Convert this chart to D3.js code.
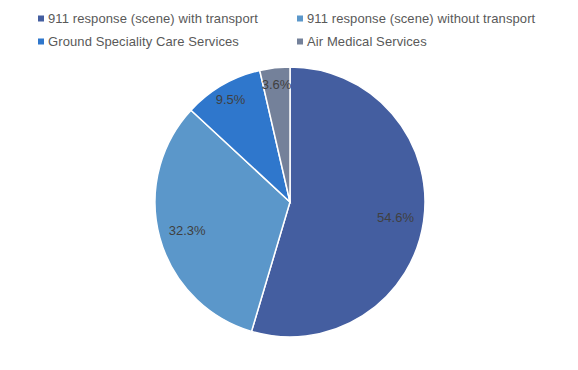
<!DOCTYPE html>
<html>
<head>
<meta charset="utf-8">
<script src="https://cdn.jsdelivr.net/npm/d3@7"></script>
<style>
  body { margin: 0; background: #fff; }
  svg { display: block; font-family: "Liberation Sans", Arial, sans-serif; }
</style>
</head>
<body>
<div id="chart"></div>
<script>
// categories and shares (%)
const categories = [
  '911 response (scene) with transport',
  '911 response (scene) without transport',
  'Ground Speciality Care Services',
  'Air Medical Services'
];
const shares = [54.6, 32.3, 9.5, 3.6];
const colors = ['#445ea0', '#5b97ca', '#2f77cc', '#74819a'];

const width = 578, height = 370;
const cx = 290, cy = 202, radius = 135;

const svg = d3.select('#chart').append('svg')
  .attr('width', width)
  .attr('height', height);

// legend, two columns
const legendPos = [[38, 15.5], [297, 15.5], [38, 38.5], [297, 38.5]];
const legend = svg.append('g');
categories.forEach((c, i) => {
  const g = legend.append('g').attr('transform', `translate(${legendPos[i][0]},${legendPos[i][1]})`);
  g.append('rect').attr('width', 6).attr('height', 6).attr('fill', colors[i]);
  g.append('text')
    .attr('x', 10).attr('y', 7)
    .attr('font-size', 13)
    .attr('letter-spacing', 0.1)
    .attr('fill', '#595959')
    .text(c);
});

// pie
const pie = d3.pie().sort(null).value(d => d);
const arc = d3.arc().innerRadius(0).outerRadius(radius);
// small slices get their label pushed further out, like the best-fit placement
const labelR = d => (d.endAngle - d.startAngle > 1 ? 0.79 : 0.88) * radius;

const g = svg.append('g').attr('transform', `translate(${cx},${cy})`);
const arcs = pie(shares);

g.selectAll('path')
  .data(arcs)
  .join('path')
  .attr('d', arc)
  .attr('fill', (d, i) => colors[i])
  .attr('stroke', '#fff')
  .attr('stroke-width', 1.5);

g.selectAll('text')
  .data(arcs)
  .join('text')
  .attr('transform', d => {
    const r = labelR(d);
    return `translate(${d3.arc().innerRadius(r).outerRadius(r).centroid(d)})`;
  })
  .attr('text-anchor', 'middle')
  .attr('dy', '0.35em')
  .attr('font-size', 13)
  .attr('fill', '#404040')
  .text(d => d.data.toFixed(1) + '%');
</script>
</body>
</html>
